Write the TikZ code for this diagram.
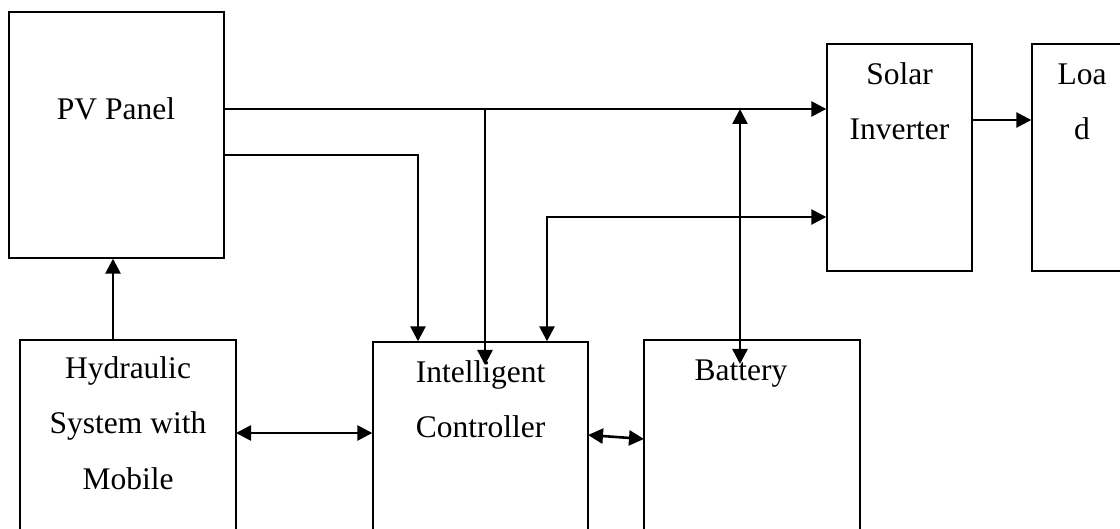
\documentclass[tikz,border=0pt]{standalone}
\usepackage{fontspec}
\setmainfont{Liberation Serif}
\usetikzlibrary{arrows.meta}
\tikzset{
  blk/.style={draw=black, line width=1.4pt, rectangle, inner sep=0pt},
  lbl/.style={font=\fontsize{31.5}{38}\selectfont, anchor=base, inner sep=0pt},
  conn/.style={draw=black, line width=2.6pt},
  tip/.tip={Triangle[length=15pt,width=15pt]},
  arr/.style={conn, -tip},
  darr/.style={conn, tip-tip}
}
\begin{document}
\begin{tikzpicture}[x=1pt,y=-1pt]
\useasboundingbox (0,0) rectangle (1120,529);
\clip (0,0) rectangle (1120,529);
\fill[white] (0,0) rectangle (1120,529);
% boxes
\node[blk, minimum width=215, minimum height=246] (pv) at (116.5,135) {};
\node[blk, minimum width=145, minimum height=227] (inv) at (899.5,157.5) {};
\node[blk, minimum width=100, minimum height=227] (load) at (1082,157.5) {};
\node[blk, minimum width=216, minimum height=220] (hyd) at (128,450) {};
\node[blk, minimum width=215, minimum height=218] (ctrl) at (480.5,451) {};
\node[blk, minimum width=216, minimum height=220] (bat) at (752,450) {};
% labels
\node[lbl] (tpv) at (116,120) {PV Panel};
\node[lbl] (tinv1) at (899.5,85) {Solar};
\node[lbl] (tinv2) at (899.5,140) {Inverter};
\node[lbl] (tload1) at (1082,85) {Loa};
\node[lbl] (tload2) at (1082,140) {d};
\node[lbl] (thyd1) at (128,379) {Hydraulic};
\node[lbl] (thyd2) at (128,434) {System with};
\node[lbl] (thyd3) at (128,489) {Mobile};
\node[lbl] (tctrl1) at (480.5,383) {Intelligent};
\node[lbl] (tctrl2) at (480.5,438) {Controller};
\node[lbl] (tbat) at (741,381) {Battery};
% port coordinates
\coordinate (pvA) at (224,109);
\coordinate (pvB) at (224,155);
\coordinate (jA) at (485,109);
\coordinate (cB) at (418,155);
\coordinate (bA) at (740,109);
\coordinate (cE) at (547,217);
\coordinate (invL) at (972,120);
\coordinate (hydT) at (113,340);
\coordinate (hcR) at (236,433);
\coordinate (cbL) at (588,435);
\coordinate (cbR) at (644,439);
% connectors
\draw[arr] (pvA) -- (pvA -| inv.west);
\draw[arr] (jA) -- (485,365);
\draw[arr] (pvB) -- (cB) -- (cB |- ctrl.north);
\draw[darr] (bA) -- (740,364);
\draw[darr] (cE |- ctrl.north) -- (cE) -- (cE -| inv.west);
\draw[arr] (invL) -- (invL -| load.west);
\draw[arr] (hydT) -- (hydT |- pv.south);
\draw[darr] (hcR) -- (hcR -| ctrl.west);
\draw[darr] (cbL) -- (cbR);
\end{tikzpicture}
\end{document}
